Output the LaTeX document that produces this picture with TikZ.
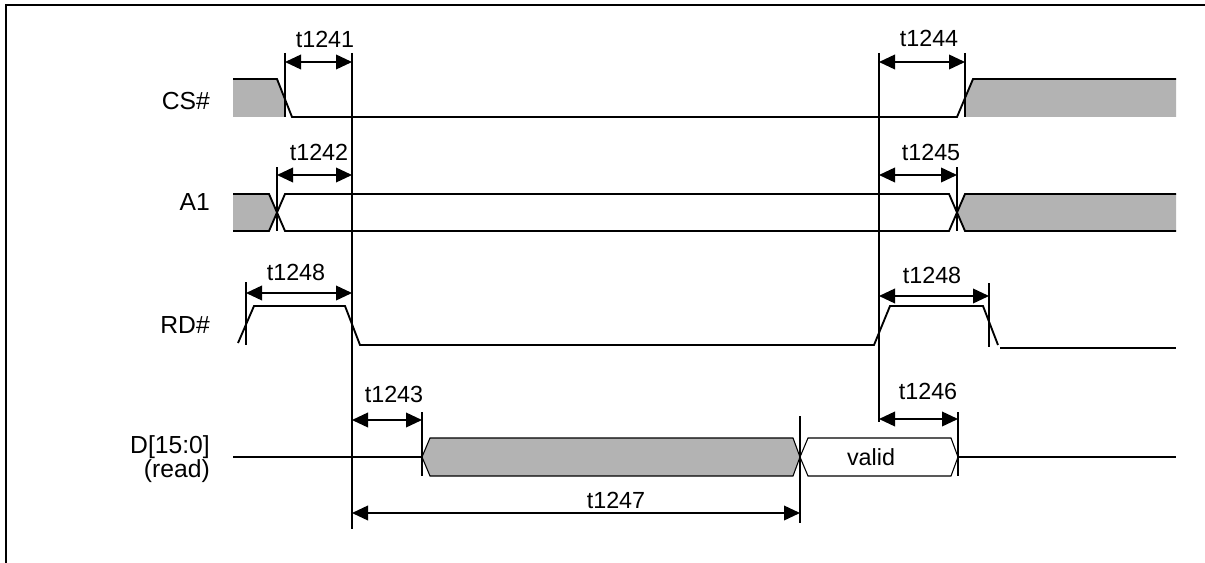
\documentclass[tikz,border=0pt]{standalone}
\usepackage{fontspec}
\setmainfont{Liberation Sans}
\usetikzlibrary{arrows.meta}
\newcommand{\tlfont}{\fontsize{17.5}{20}\selectfont}
\newcommand{\sigfont}{\fontsize{18.5}{15.5}\selectfont}
\definecolor{busgray}{RGB}{179,179,179}

\begin{document}
\begin{tikzpicture}[x=0.75pt,y=-0.75pt,
    sig/.style={line width=1.4pt},
    tickline/.style={line width=0.8pt},
    shade/.style={fill=busgray},
    span/.style={{Triangle[length=12pt,width=11pt]}-{Triangle[length=12pt,width=11pt]}, line width=1.2pt},
    tlabel/.style={font=\tlfont, inner sep=0pt, anchor=base},
    siglabel/.style={font=\sigfont, inner sep=0pt, anchor=base east}]
    \useasboundingbox (0,0) rectangle (1205,563);

    % frame
    \draw[line width=2pt] (6,563) -- (6,5) -- (1205,5);

    % signal names
    \node[siglabel] (cs) at (210,110) {CS\#};
    \node[siglabel] (a1) at (210,210) {A1};
    \node[siglabel] (rd) at (210,333) {RD\#};
    \node[font=\sigfont, inner sep=0pt, anchor=east, align=right] (data) at (210,459) {D[15:0]\\(read)};

    % CS#
    \fill[shade] (233,79) -- (277,79) -- (285,100) -- (285,117) -- (233,117) -- cycle;
    \fill[shade] (965,98) -- (973,79) -- (1176,79) -- (1176,117) -- (965,117) -- cycle;
    \draw[sig] (233,79) -- (277,79) -- (292,117) -- (957,117) -- (973,79) -- (1176,79);

    % A1
    \fill[shade] (233,194) -- (269,194) -- (277,212) -- (269,231) -- (233,231) -- cycle;
    \fill[shade] (957,212) -- (965,194) -- (1176,194) -- (1176,231) -- (965,231) -- cycle;
    \draw[sig] (233,194) -- (269,194) -- (285,231) -- (949,231) -- (965,194) -- (1176,194);
    \draw[sig] (233,231) -- (269,231) -- (285,194) -- (949,194) -- (965,231) -- (1176,231);

    % RD#
    \draw[sig] (238,343) -- (254,306) -- (345,306) -- (360,345) -- (874,345) -- (890,306) -- (983,306) -- (998,345);
    \draw[sig] (1000,348) -- (1176,348);

    % D[15:0]
    \draw[line width=0.8pt] (233,457) -- (422,457);
    \filldraw[shade, draw=black, line width=0.8pt] (422,457) -- (430,438) -- (793,438) -- (800,457) -- (793,476) -- (430,476) -- cycle;
    \draw[line width=0.8pt] (800,457) -- (808,438) -- (951,438) -- (958,457) -- (951,476) -- (808,476) -- cycle;
    \node[tlabel] (valid) at (871,465) {valid};
    \draw[sig] (958,457) -- (1176,457);

    % reference lines
    \draw[tickline] (352,53) -- (352,529);
    \draw[tickline] (879,53) -- (879,422);
    \draw[tickline] (285,53) -- (285,117);
    \draw[tickline] (277,167) -- (277,231);
    \draw[tickline] (965,53) -- (965,117);
    \draw[tickline] (957,167) -- (957,231);
    \draw[tickline] (246,282) -- (246,345);
    \draw[tickline] (989,283) -- (989,347);
    \draw[tickline] (422,412) -- (422,476);
    \draw[tickline] (958,412) -- (958,476);
    \draw[tickline] (800,416) -- (800,523);

    % arrow ends
    \coordinate (c1a) at (285,62);  \coordinate (c1b) at (352,62);
    \coordinate (c2a) at (277,175); \coordinate (c2b) at (352,175);
    \coordinate (c4a) at (879,62);  \coordinate (c4b) at (965,62);
    \coordinate (c5a) at (879,175); \coordinate (c5b) at (957,175);
    \coordinate (c8a) at (246,293); \coordinate (c8b) at (352,293);
    \coordinate (c9a) at (879,296); \coordinate (c9b) at (989,296);
    \coordinate (c3a) at (352,420); \coordinate (c3b) at (422,420);
    \coordinate (c6a) at (879,419); \coordinate (c6b) at (958,419);
    \coordinate (c7a) at (352,513); \coordinate (c7b) at (800,513);

    % timing arrows
    \draw[span] (c1a) -- (c1b);
    \draw[span] (c2a) -- (c2b);
    \draw[span] (c4a) -- (c4b);
    \draw[span] (c5a) -- (c5b);
    \draw[span] (c8a) -- (c8b);
    \draw[span] (c9a) -- (c9b);
    \draw[span] (c3a) -- (c3b);
    \draw[span] (c6a) -- (c6b);
    \draw[span] (c7a) -- (c7b);

    % timing labels
    \node[tlabel] (t1241) at (325,48) {t1241};
    \node[tlabel] (t1242) at (319,161) {t1242};
    \node[tlabel] (t1244) at (929,47) {t1244};
    \node[tlabel] (t1245) at (931,161) {t1245};
    \node[tlabel] (t1248a) at (296,280) {t1248};
    \node[tlabel] (t1248b) at (932,283) {t1248};
    \node[tlabel] (t1243) at (394,402) {t1243};
    \node[tlabel] (t1246) at (928,399) {t1246};
    \node[tlabel] (t1247) at (616,508) {t1247};
\end{tikzpicture}
\end{document}
